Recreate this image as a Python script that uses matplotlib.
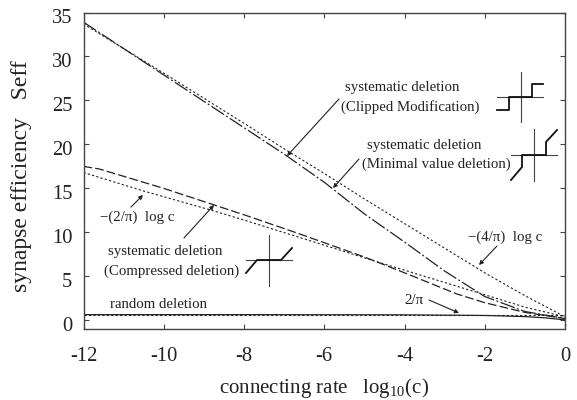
import matplotlib
matplotlib.use("Agg")
import matplotlib.pyplot as plt
from matplotlib.transforms import Affine2D, ScaledTranslation

W, H = 577, 400

# curves
clipped_x = [-12, -10, -8, -7, -6, -5, -4, -3, -2, -1, 0]
clipped_y = [33.9, 27.9, 21.9, 18.9, 15.7, 12.1, 8.9, 5.6, 2.7, 1.0, 0.2]
four_pi_x = [-12, -10, -8, -7, -6, -5, -4, -3, -2, -1, 0]
four_pi_y = [33.7, 28.1, 22.4, 19.5, 16.7, 13.8, 11.0, 8.2, 5.4, 2.8, 0.4]
compressed_x = [-12, -11.6, -10, -8.8, -8, -6.6, -5, -4, -2.7, -2, -1, 0]
compressed_y = [17.5, 17.2, 15.0, 13.2, 12.0, 9.8, 7.2, 5.4, 3.0, 2.0, 0.9, 0.2]
two_pi_x = [-12, -10.5, -8.8, -8, -6.6, -5, -4, -2.5, -2, -1, 0]
two_pi_y = [16.8, 14.7, 12.5, 11.4, 9.4, 7.1, 5.7, 3.6, 2.9, 1.5, 0.4]
random_x = [-12, -8, -4, -2, -1, -0.5, 0]
random_y = [0.64, 0.64, 0.62, 0.55, 0.42, 0.28, 0.05]
two_over_pi_x = [-12, 0]
two_over_pi_y = [0.64, 0.64]

xticks = [-12, -10, -8, -6, -4, -2, 0]
xticklabels = ["-12", "-10", "-8", "-6", "-4", "-2", "0"]
yticks = [0, 5, 10, 15, 20, 25, 30, 35]

plt.rcParams["font.family"] = ["Liberation Serif", "DejaVu Serif"]
INK = "#222222"
TEXT = "#222222"

fig = plt.figure(figsize=(W / 100, H / 100), dpi=100)
ax = fig.add_axes([83.5 / W, 1 - 329 / H, 481.5 / W, 316.5 / H])
px = Affine2D().scale(1 / W, -1 / H).translate(0, 1) + fig.transFigure

ax.plot(clipped_x, clipped_y, color=INK, lw=0.9, dashes=(12, 2, 1.5, 2))
ax.plot(four_pi_x, four_pi_y, color=INK, lw=0.8, dashes=(2, 2))
ax.plot(compressed_x, compressed_y, color=INK, lw=0.9, dashes=(7, 2.5))
ax.plot(two_pi_x, two_pi_y, color=INK, lw=0.8, dashes=(2, 2))
ax.plot(random_x, random_y, color=INK, lw=0.9)
ax.plot(two_over_pi_x, two_over_pi_y, color=INK, lw=0.8, dashes=(2, 2))

ax.set_xlim(-12, 0)
ax.set_ylim(-0.99, 35)
ax.set_xticks(xticks)
ax.set_xticklabels(xticklabels)
ax.set_yticks(yticks)
ax.tick_params(direction="in", top=True, right=True, length=3.4, width=0.8,
               color="#444444", labelcolor=TEXT, labelsize=14.8)
ax.tick_params(axis="x", pad=13)
ax.tick_params(axis="y", pad=8)
# y labels sit a little below their ticks in the original
shift = ScaledTranslation(0, -3.5 / 100, fig.dpi_scale_trans)
for lab in ax.get_yticklabels():
    lab.set_transform(lab.get_transform() + shift)
for s in ax.spines.values():
    s.set_linewidth(1.0)
    s.set_color("#444444")

fig.text(22 / W, 1 - 176 / H, "synapse efficiency   Seff", rotation=90,
         ha="center", va="center", fontsize=17, color=TEXT)
fig.text(219 / W, 1 - 393 / H, r"connecting rate   log$_{\mathregular{10}}$(c)",
         ha="left", va="baseline", fontsize=15, color=TEXT)

# annotation text in pixel positions
labels = [
    (345, 88, "systematic deletion"),
    (341, 107, "(Clipped Modification)"),
    (367, 145, "systematic deletion"),
    (362, 164, "(Minimal value deletion)"),
    (108, 252, "systematic deletion"),
    (104, 271, "(Compressed deletion)"),
    (110, 304, "random deletion"),
    (100, 217, "\u2212(2/\u03c0)  log c"),
    (468, 237, "\u2212(4/\u03c0)  log c"),
    (404, 300, "2/\u03c0"),
]
for x, y, s in labels:
    ax.text(x, y, s, transform=px, fontsize=10.7, ha="left", va="center",
            color=TEXT, clip_on=False)

arrows = [
    ((339, 99), (287, 156)),
    ((359, 159), (333, 188)),
    ((184, 238), (214, 205)),
    ((429, 300), (459, 313)),
    ((497, 246), (479, 265)),
    ((131, 207), (143, 195)),
]
for start, end in arrows:
    ax.annotate("", xy=end, xytext=start, xycoords=px, textcoords=px,
                arrowprops=dict(arrowstyle="-|>", lw=0.8, color=INK,
                                mutation_scale=6, shrinkA=0, shrinkB=0))

# little transfer function sketches
thin = [
    ([497, 543], [97, 97]), ([521, 521], [72, 122]),
    ([511, 557], [155, 155]), ([534, 534], [129, 181]),
    ([246, 292], [260, 260]), ([269, 269], [235, 286]),
]
thick = [
    ([497, 509, 509, 532, 532, 543], [110, 110, 97, 97, 84, 84]),
    ([511, 522, 522, 546, 546, 557], [180, 167, 155, 155, 142, 130]),
    ([246, 257, 281, 292], [273, 260, 260, 248]),
]
for xs, ys in thin:
    ax.plot(xs, ys, transform=px, color="#444444", lw=0.8, clip_on=False)
for xs, ys in thick:
    ax.plot(xs, ys, transform=px, color="#111111", lw=1.3, clip_on=False)

fig.savefig("out.png", dpi=100, facecolor="white")
